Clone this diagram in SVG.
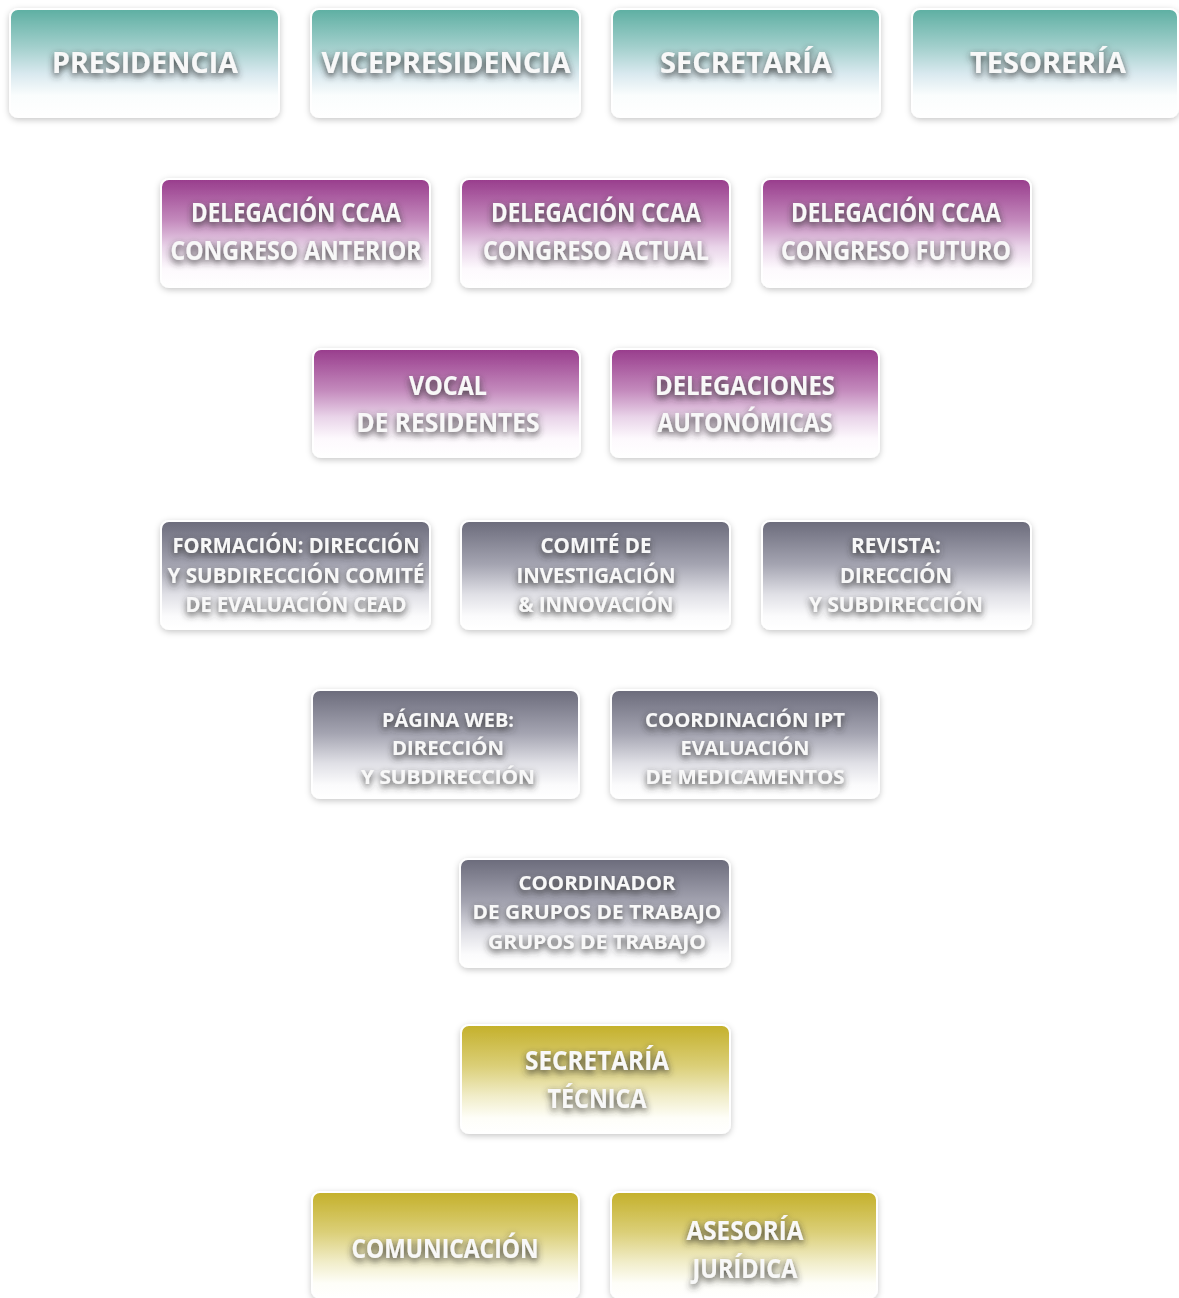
<svg xmlns="http://www.w3.org/2000/svg" width="1179" height="1298" viewBox="0 0 1179 1298">
<defs>
<linearGradient id="gTeal" x1="0" y1="0" x2="0" y2="1">
<stop offset="0" stop-color="#5dafa2"/><stop offset="0.35" stop-color="#a2cfcc"/><stop offset="0.6" stop-color="#d9e9ef"/><stop offset="0.8" stop-color="#fafdfd"/><stop offset="1" stop-color="#ffffff"/>
</linearGradient>
<linearGradient id="gPurple" x1="0" y1="0" x2="0" y2="1">
<stop offset="0" stop-color="#983c8c"/><stop offset="0.38" stop-color="#c389bc"/><stop offset="0.63" stop-color="#e9d4e9"/><stop offset="0.83" stop-color="#fdf9fd"/><stop offset="1" stop-color="#ffffff"/>
</linearGradient>
<linearGradient id="gGray" x1="0" y1="0" x2="0" y2="1">
<stop offset="0" stop-color="#6b6b7b"/><stop offset="0.4" stop-color="#a4a4b1"/><stop offset="0.68" stop-color="#e0e0e6"/><stop offset="0.88" stop-color="#fbfbfc"/><stop offset="1" stop-color="#ffffff"/>
</linearGradient>
<linearGradient id="gOlive" x1="0" y1="0" x2="0" y2="1">
<stop offset="0" stop-color="#c4b02a"/><stop offset="0.38" stop-color="#dbcf78"/><stop offset="0.66" stop-color="#f1edc9"/><stop offset="0.86" stop-color="#fefef8"/><stop offset="1" stop-color="#ffffff"/>
</linearGradient>
<filter id="boxShadow" x="-10%" y="-15%" width="120%" height="135%">
<feDropShadow dx="0" dy="2" stdDeviation="3" flood-color="#000" flood-opacity="0.22"/>
</filter>
<filter id="txtShadow" x="-10%" y="-40%" width="120%" height="200%">
<feGaussianBlur in="SourceAlpha" stdDeviation="3.5"/>
<feOffset dx="0" dy="3" result="b"/>
<feFlood flood-color="#333" flood-opacity="1"/>
<feComposite in2="b" operator="in" result="s"/>
<feMerge><feMergeNode in="s"/><feMergeNode in="SourceGraphic"/></feMerge>
</filter>
</defs>
<style>
.box{stroke:#ffffff;stroke-width:2;filter:url(#boxShadow)}
.t{font-family:"Open Sans","Liberation Sans",sans-serif;font-weight:700;fill:#f8f8f8;text-anchor:middle;filter:url(#txtShadow)}
.L{font-size:28px}
.M{font-size:26px}
.S{font-size:22px}
.XS{font-size:20px}
</style>
<rect width="1179" height="1298" fill="#ffffff"/>
<g id="connectors"/>

<g id="presidencia"><rect class="box" x="10" y="9" width="269" height="108" rx="8" fill="url(#gTeal)"/>
<text class="t L" x="145" y="73" textLength="186" lengthAdjust="spacingAndGlyphs">PRESIDENCIA</text></g>
<g id="vicepresidencia"><rect class="box" x="311" y="9" width="269" height="108" rx="8" fill="url(#gTeal)"/>
<text class="t L" x="446" y="73" textLength="249" lengthAdjust="spacingAndGlyphs">VICEPRESIDENCIA</text></g>
<g id="secretaria"><rect class="box" x="612" y="9" width="268" height="108" rx="8" fill="url(#gTeal)"/>
<text class="t L" x="746" y="73" textLength="172" lengthAdjust="spacingAndGlyphs">SECRETARÍA</text></g>
<g id="tesoreria"><rect class="box" x="912" y="9" width="266" height="108" rx="8" fill="url(#gTeal)"/>
<text class="t L" x="1048" y="73" textLength="156" lengthAdjust="spacingAndGlyphs">TESORERÍA</text></g>

<g id="delegacion-anterior"><rect class="box" x="161" y="179" width="269" height="108" rx="8" fill="url(#gPurple)"/>
<text class="t M" x="296" y="222" textLength="210" lengthAdjust="spacingAndGlyphs">DELEGACIÓN CCAA</text>
<text class="t M" x="296" y="260" textLength="251" lengthAdjust="spacingAndGlyphs">CONGRESO ANTERIOR</text></g>
<g id="delegacion-actual"><rect class="box" x="461" y="179" width="269" height="108" rx="8" fill="url(#gPurple)"/>
<text class="t M" x="596" y="222" textLength="210" lengthAdjust="spacingAndGlyphs">DELEGACIÓN CCAA</text>
<text class="t M" x="596" y="260" textLength="226" lengthAdjust="spacingAndGlyphs">CONGRESO ACTUAL</text></g>
<g id="delegacion-futuro"><rect class="box" x="762" y="179" width="269" height="108" rx="8" fill="url(#gPurple)"/>
<text class="t M" x="896" y="222" textLength="210" lengthAdjust="spacingAndGlyphs">DELEGACIÓN CCAA</text>
<text class="t M" x="896" y="260" textLength="230" lengthAdjust="spacingAndGlyphs">CONGRESO FUTURO</text></g>

<g id="vocal"><rect class="box" x="313" y="349" width="267" height="108" rx="8" fill="url(#gPurple)"/>
<text class="t M" x="448" y="395" textLength="78" lengthAdjust="spacingAndGlyphs">VOCAL</text>
<text class="t M" x="448" y="432" textLength="183" lengthAdjust="spacingAndGlyphs">DE RESIDENTES</text></g>
<g id="delegaciones"><rect class="box" x="611" y="349" width="268" height="108" rx="8" fill="url(#gPurple)"/>
<text class="t M" x="745" y="395" textLength="180" lengthAdjust="spacingAndGlyphs">DELEGACIONES</text>
<text class="t M" x="745" y="432" textLength="175" lengthAdjust="spacingAndGlyphs">AUTONÓMICAS</text></g>

<g id="formacion"><rect class="box" x="161" y="521" width="269" height="108" rx="8" fill="url(#gGray)"/>
<text class="t S" x="296" y="553" textLength="247" lengthAdjust="spacingAndGlyphs">FORMACIÓN: DIRECCIÓN</text>
<text class="t S" x="296" y="583" textLength="257" lengthAdjust="spacingAndGlyphs">Y SUBDIRECCIÓN COMITÉ</text>
<text class="t S" x="296" y="612" textLength="221" lengthAdjust="spacingAndGlyphs">DE EVALUACIÓN CEAD</text></g>
<g id="comite"><rect class="box" x="461" y="521" width="269" height="108" rx="8" fill="url(#gGray)"/>
<text class="t S" x="596" y="553" textLength="111" lengthAdjust="spacingAndGlyphs">COMITÉ DE</text>
<text class="t S" x="596" y="583" textLength="159" lengthAdjust="spacingAndGlyphs">INVESTIGACIÓN</text>
<text class="t S" x="596" y="612" textLength="155" lengthAdjust="spacingAndGlyphs">&amp; INNOVACIÓN</text></g>
<g id="revista"><rect class="box" x="762" y="521" width="269" height="108" rx="8" fill="url(#gGray)"/>
<text class="t S" x="896" y="553" textLength="90" lengthAdjust="spacingAndGlyphs">REVISTA:</text>
<text class="t S" x="896" y="583" textLength="112" lengthAdjust="spacingAndGlyphs">DIRECCIÓN</text>
<text class="t S" x="896" y="612" textLength="174" lengthAdjust="spacingAndGlyphs">Y SUBDIRECCIÓN</text></g>

<g id="pagina-web"><rect class="box" x="312" y="690" width="267" height="108" rx="8" fill="url(#gGray)"/>
<text class="t XS" x="448" y="727" textLength="132" lengthAdjust="spacingAndGlyphs">PÁGINA WEB:</text>
<text class="t XS" x="448" y="755" textLength="112" lengthAdjust="spacingAndGlyphs">DIRECCIÓN</text>
<text class="t XS" x="448" y="784" textLength="174" lengthAdjust="spacingAndGlyphs">Y SUBDIRECCIÓN</text></g>
<g id="coordinacion-ipt"><rect class="box" x="611" y="690" width="268" height="108" rx="8" fill="url(#gGray)"/>
<text class="t XS" x="745" y="727" textLength="200" lengthAdjust="spacingAndGlyphs">COORDINACIÓN IPT</text>
<text class="t XS" x="745" y="755" textLength="129" lengthAdjust="spacingAndGlyphs">EVALUACIÓN</text>
<text class="t XS" x="745" y="784" textLength="199" lengthAdjust="spacingAndGlyphs">DE MEDICAMENTOS</text></g>

<g id="coordinador"><rect class="box" x="460" y="859" width="270" height="108" rx="8" fill="url(#gGray)"/>
<text class="t XS" x="597" y="890" textLength="157" lengthAdjust="spacingAndGlyphs">COORDINADOR</text>
<text class="t XS" x="597" y="919" textLength="249" lengthAdjust="spacingAndGlyphs">DE GRUPOS DE TRABAJO</text>
<text class="t XS" x="597" y="949" textLength="218" lengthAdjust="spacingAndGlyphs">GRUPOS DE TRABAJO</text></g>

<g id="secretaria-tecnica"><rect class="box" x="461" y="1025" width="269" height="108" rx="8" fill="url(#gOlive)"/>
<text class="t M" x="597" y="1070" textLength="144" lengthAdjust="spacingAndGlyphs">SECRETARÍA</text>
<text class="t M" x="597" y="1108" textLength="99" lengthAdjust="spacingAndGlyphs">TÉCNICA</text></g>

<g id="comunicacion"><rect class="box" x="312" y="1192" width="267" height="106" rx="8" fill="url(#gOlive)"/>
<text class="t M" x="445" y="1258" textLength="187" lengthAdjust="spacingAndGlyphs">COMUNICACIÓN</text></g>
<g id="asesoria"><rect class="box" x="611" y="1192" width="266" height="106" rx="8" fill="url(#gOlive)"/>
<text class="t M" x="745" y="1240" textLength="117" lengthAdjust="spacingAndGlyphs">ASESORÍA</text>
<text class="t M" x="745" y="1278" textLength="105" lengthAdjust="spacingAndGlyphs">JURÍDICA</text></g>
</svg>
